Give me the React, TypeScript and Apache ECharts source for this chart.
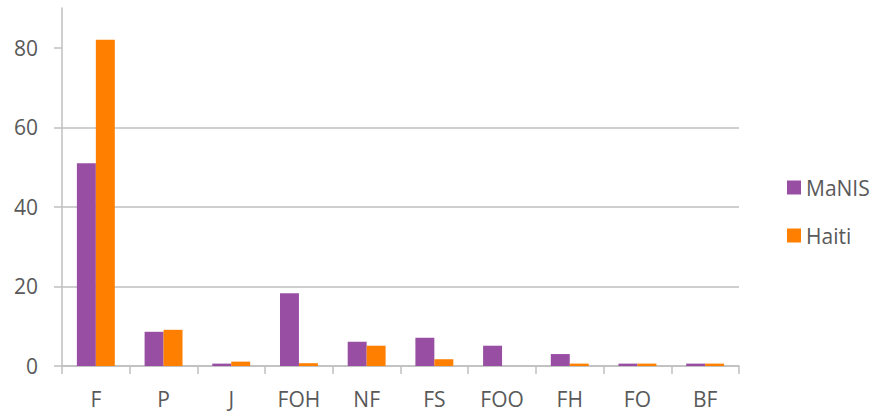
import React, { useEffect, useRef } from "react";
import * as echarts from "echarts";

const categories = ["F", "P", "J", "FOH", "NF", "FS", "FOO", "FH", "FO", "BF"];
const manis = [51, 8.6, 0.6, 18.3, 6.1, 7.1, 5.1, 3.0, 0.6, 0.6];
const haiti = [82, 9.1, 1.1, 0.7, 5.1, 1.7, 0, 0.6, 0.6, 0.6];
const yTicks = [0, 20, 40, 60, 80];

export default function App() {
  const ref = useRef<HTMLDivElement>(null);
  useEffect(() => {
    document.body.style.margin = "0";
    const chart = echarts.init(ref.current!, undefined, { renderer: "svg" });
    const font = "'Open Sans', Lato, sans-serif";
    chart.setOption({
      animation: false,
      textStyle: { fontFamily: font },
      grid: { left: 62, right: 134, top: 8, bottom: 49 },
      legend: {
        orient: "vertical",
        left: 782,
        top: 172,
        itemWidth: 14,
        itemHeight: 14,
        itemGap: 27,
        icon: "rect",
        textStyle: { fontFamily: font, fontSize: 21, color: "#595959" },
        data: ["MaNIS", "Haiti"],
      },
      xAxis: {
        type: "category",
        data: categories,
        axisLine: { lineStyle: { color: "#BFBFBF", width: 1.5 } },
        axisTick: { show: true, length: 8, lineStyle: { color: "#BFBFBF", width: 1.5 } },
        axisLabel: { color: "#595959", fontSize: 21, margin: 22, fontFamily: font },
      },
      yAxis: {
        type: "value",
        min: 0,
        max: 90,
        interval: 20,
        axisLine: { show: true, lineStyle: { color: "#BFBFBF", width: 1.5 } },
        axisTick: { show: true, length: 8, customValues: yTicks, lineStyle: { color: "#BFBFBF", width: 1.5 } },
        axisLabel: { color: "#595959", fontSize: 21, margin: 24, customValues: yTicks, fontFamily: font },
        splitLine: { show: true, showMaxLine: false, lineStyle: { color: "#BFBFBF", width: 1.5 } },
      },
      series: [
        {
          name: "MaNIS",
          type: "bar",
          data: manis,
          barGap: "0%",
          barCategoryGap: "44%",
          itemStyle: { color: "#984EA3" },
        },
        {
          name: "Haiti",
          type: "bar",
          data: haiti,
          barGap: "0%",
          barCategoryGap: "44%",
          itemStyle: { color: "#FF7F00" },
        },
      ],
    });
    return () => chart.dispose();
  }, []);
  return <div ref={ref} style={{ position: "absolute", left: 0, top: 0, width: 873, height: 415 }} />;
}
